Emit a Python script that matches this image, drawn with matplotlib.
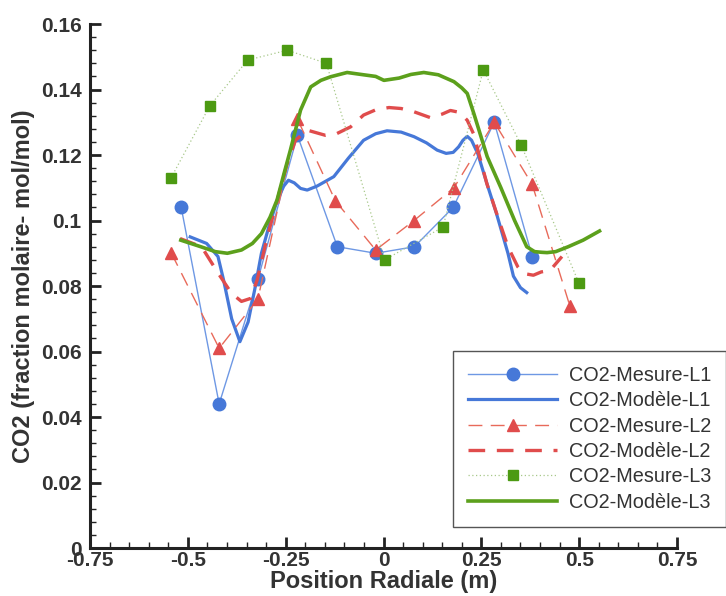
import numpy as np
import matplotlib
matplotlib.use('Agg')
from matplotlib import pyplot as plt
from matplotlib.ticker import MultipleLocator, FuncFormatter

# measured points
x_mes1=[-0.517,-0.420,-0.321,-0.220,-0.118,-0.020,0.079,0.178,0.283,0.380]
y_mes1=[0.104,0.044,0.082,0.126,0.092,0.090,0.092,0.104,0.130,0.089]

x_mes2=[-0.542,-0.420,-0.321,-0.220,-0.123,-0.020,0.078,0.180,0.283,0.380,0.476]
y_mes2=[0.090,0.061,0.076,0.131,0.106,0.091,0.100,0.110,0.130,0.111,0.074]

x_mes3=[-0.543,-0.444,-0.347,-0.246,-0.146,0.003,0.152,0.255,0.352,0.499]
y_mes3=[0.113,0.135,0.149,0.152,0.148,0.088,0.098,0.146,0.123,0.081]

# model curves
x_mod1=[-0.494,-0.452,-0.423,-0.409,-0.388,-0.367,-0.346,-0.329,-0.312,-0.291,-0.272,-0.255,
        -0.243,-0.228,-0.212,-0.195,-0.170,-0.127,-0.090,-0.051,-0.020,0.009,0.045,0.078,0.110,0.137,
        0.160,0.178,0.192,0.203,0.214,0.225,0.241,0.265,0.289,0.318,0.332,0.350,0.366]
y_mod1=[0.095,0.093,0.089,0.082,0.070,0.063,0.069,0.079,0.090,0.099,0.106,0.1105,
        0.1123,0.1115,0.1098,0.1093,0.1105,0.1134,0.119,0.1245,0.1265,0.1274,0.1270,0.1256,0.1237,0.1215,
        0.1205,0.1208,0.1225,0.1245,0.1257,0.1245,0.1204,0.111,0.102,0.090,0.083,0.0795,0.078]

x_mod2=[-0.520,-0.465,-0.423,-0.388,-0.363,-0.340,-0.323,-0.297,-0.272,-0.247,-0.225,-0.195,
        -0.148,-0.120,-0.084,-0.051,-0.020,0.014,0.045,0.078,0.120,0.150,0.171,0.195,0.214,
        0.230,0.264,0.289,0.318,0.343,0.359,0.383,0.403,0.426,0.456]
y_mod2=[0.0945,0.092,0.084,0.0777,0.0753,0.0762,0.0818,0.095,0.106,0.117,0.1245,0.1276,
        0.126,0.1265,0.1286,0.1322,0.1338,0.1345,0.1342,0.1332,0.1314,0.1325,0.1336,0.1330,0.1306,
        0.1265,0.1113,0.1022,0.092,0.0859,0.0838,0.0833,0.0843,0.0848,0.089]

x_mod3=[-0.518,-0.467,-0.430,-0.399,-0.363,-0.335,-0.312,-0.290,-0.272,-0.255,-0.238,-0.212,
        -0.186,-0.160,-0.135,-0.093,-0.051,-0.020,0.001,0.040,0.070,0.103,0.140,0.180,0.200,
        0.214,0.231,0.265,0.300,0.335,0.366,0.386,0.404,0.418,0.440,0.472,0.510,0.552]
y_mod3=[0.094,0.092,0.0905,0.090,0.091,0.093,0.096,0.101,0.1063,0.114,0.1215,0.1337,
        0.1408,0.1428,0.1439,0.1452,0.1445,0.1440,0.1428,0.1435,0.1446,0.1452,0.1445,0.1424,0.1405,
        0.1388,0.1326,0.1195,0.110,0.100,0.092,0.0905,0.0903,0.0902,0.0905,0.092,0.094,0.0968]

blue='#4678d8'
red='#e04c4c'
green='#4c9a12'

plt.rcParams['font.family']=['Liberation Sans','DejaVu Sans']

fig=plt.figure(figsize=(7.26,5.96),dpi=100)
ax=fig.add_axes([0.124,0.0805,0.8085,0.8792])

ax.plot(x_mes1,y_mes1,color='#6e98e4',lw=1,marker='o',ms=9,mfc=blue,mec=blue,label='CO2-Mesure-L1')
ax.plot(x_mod1,y_mod1,color=blue,lw=2.3,label='CO2-Modèle-L1')
ax.plot(x_mes2,y_mes2,color='#e86a5a',lw=1,ls=(0,(10,6)),marker='^',ms=8,mfc=red,mec=red,label='CO2-Mesure-L2')
ax.plot(x_mod2,y_mod2,color=red,lw=2.4,ls=(0,(5,3.5)),label='CO2-Modèle-L2')
ax.plot(x_mes3,y_mes3,color='#a8c88a',lw=0.9,ls=(0,(1,2)),marker='s',ms=6.5,mfc=green,mec=green,label='CO2-Mesure-L3')
ax.plot(x_mod3,y_mod3,color='#5ca01c',lw=2.6,label='CO2-Modèle-L3')

ax.set_xlim(-0.75,0.75)
ax.set_ylim(0,0.16)
ax.spines['top'].set_visible(False)
ax.spines['right'].set_visible(False)
for s in ['left','bottom']:
    ax.spines[s].set_linewidth(2.2)
    ax.spines[s].set_color('#222222')

ax.xaxis.set_major_locator(MultipleLocator(0.25))
ax.xaxis.set_minor_locator(MultipleLocator(0.05))
ax.yaxis.set_major_locator(MultipleLocator(0.02))
ax.yaxis.set_minor_locator(MultipleLocator(0.004))
fmt=FuncFormatter(lambda v,p: '%g'%round(v,4))
ax.xaxis.set_major_formatter(fmt)
ax.yaxis.set_major_formatter(fmt)
ax.tick_params(which='major',direction='in',length=8,width=2,color='#222222',labelsize=15)
ax.tick_params(axis='y',which='major',pad=6)
ax.tick_params(axis='x',which='major',pad=2)
ax.tick_params(which='minor',direction='in',length=4,width=1,color='#222222')
for lab in ax.get_xticklabels()+ax.get_yticklabels():
    lab.set_fontweight('bold')
    lab.set_color('#333333')

ax.set_xlabel('Position Radiale (m)',fontsize=17,fontweight='bold',color='#333333',labelpad=0)
ax.set_ylabel('CO2 (fraction molaire- mol/mol)',fontsize=17,fontweight='bold',color='#333333',labelpad=4)

leg=ax.legend(loc='upper left',bbox_to_anchor=(0.624,0.411),bbox_transform=fig.transFigure,
              fontsize=14.3,handlelength=4.5,handletextpad=0.6,labelspacing=0.32,
              borderpad=0.75,borderaxespad=0,numpoints=1,fancybox=False,framealpha=1)
leg.get_frame().set_edgecolor('#555555')
leg.get_frame().set_linewidth(1)
for t in leg.get_texts():
    t.set_color('#333333')

plt.savefig('out.png',dpi=100)
